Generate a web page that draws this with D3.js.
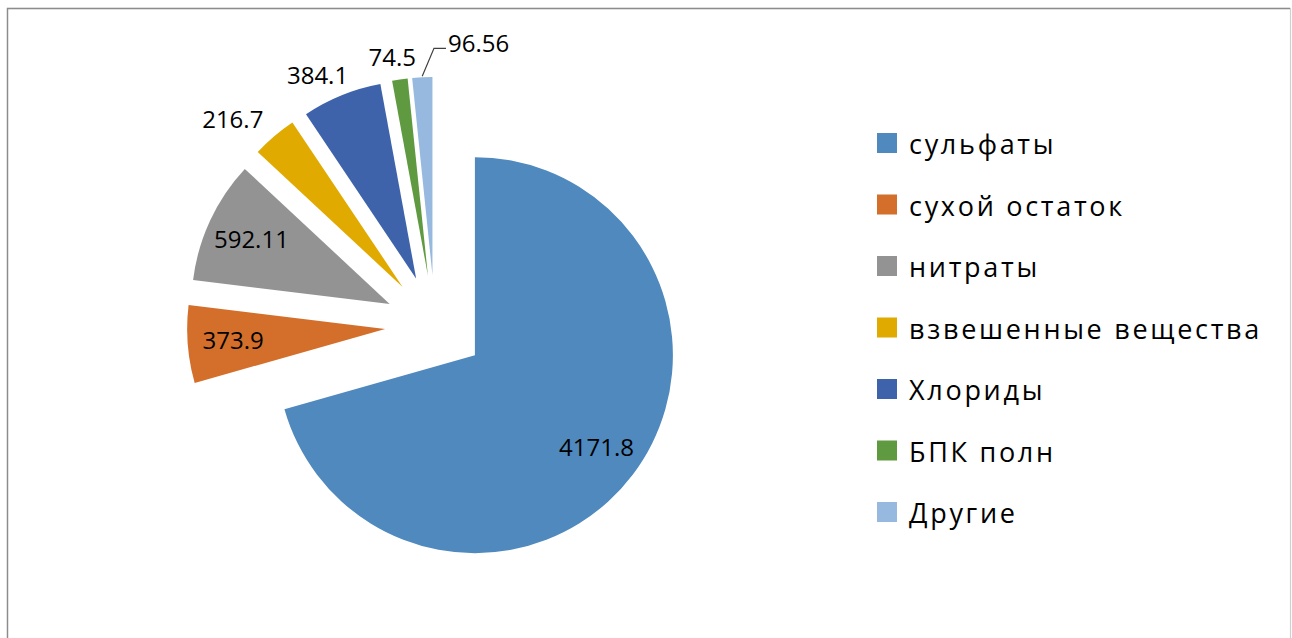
<!DOCTYPE html>
<html>
<head>
<meta charset="utf-8">
<script src="https://cdn.jsdelivr.net/npm/d3@7"></script>
<style>
  html, body { margin: 0; padding: 0; background: #fff; }
  svg { display: block; }
</style>
</head>
<body>
<script>
// chart data
var categories = ["сульфаты", "сухой остаток", "нитраты", "взвешенные вещества", "Хлориды", "БПК полн", "Другие"];
var values = [4171.8, 373.9, 592.11, 216.7, 384.1, 74.5, 96.56];
var colors = ["#4f89bd", "#d46f2b", "#939393", "#e0aa00", "#3e63ab", "#5f9a41", "#97b9e0"];

var W = 1292, H = 638;
var cx = 435, cy = 325;      // pie centre
var r = 198;                 // radius
var explode = 50;            // every slice pulled out
var labelFont = "'Open Sans', 'DejaVu Sans', sans-serif";
var labelSize = 24;

var svg = d3.select("body")
    .append("svg")
    .attr("width", W)
    .attr("height", H);

// frame
svg.append("rect")
    .attr("x", 7.5).attr("y", 8.5)
    .attr("width", W - 9).attr("height", H)
    .attr("fill", "#fff")
    .attr("stroke", "#d0d0d0")
    .attr("stroke-width", 1.2);
svg.append("path")
    .attr("d", "M7.5," + H + "V8.5H" + (W - 2))
    .attr("fill", "none")
    .attr("stroke", "#8c8c8c")
    .attr("stroke-width", 1.4);

var pie = d3.pie().sort(null).value(function(d) { return d; });
var arcs = pie(values);
var arc = d3.arc().innerRadius(0).outerRadius(r);

function dirOf(a) { return [Math.sin(a), -Math.cos(a)]; }

arcs.forEach(function(d) {
    var mid = (d.startAngle + d.endAngle) / 2;
    var v = dirOf(mid);
    d.mid = mid;
    d.dir = v;
    d.ox = cx + v[0] * explode;
    d.oy = cy + v[1] * explode;
});

svg.append("g").selectAll(".slice")
    .data(arcs)
    .enter()
    .append("path")
    .attr("class", "slice")
    .attr("transform", function(d) { return "translate(" + d.ox + "," + d.oy + ")"; })
    .attr("d", arc)
    .attr("fill", function(d, i) { return colors[i]; });

// data labels: inside when the text fits in the wedge, otherwise outside
var labelG = svg.append("g");
var placed = [];

arcs.forEach(function(d, i) {
    var t = labelG.append("text")
        .attr("text-anchor", "middle")
        .style("font-family", labelFont)
        .style("font-size", labelSize + "px")
        .style("fill", "#000")
        .text(String(values[i]));
    var w = t.node().getComputedTextLength();
    var h = labelSize * 0.75;

    // try inside
    var ri = r * 0.77;
    var px = d.dir[0] * ri, py = d.dir[1] * ri;
    var fits = true;
    [[-w / 2, -h / 2], [w / 2, -h / 2], [-w / 2, h / 2], [w / 2, h / 2]].forEach(function(c) {
        var x = px + c[0], y = py + c[1];
        var a = Math.atan2(x, -y);
        if (a < 0) a += 2 * Math.PI;
        var dist = Math.sqrt(x * x + y * y);
        if (a < d.startAngle || a > d.endAngle || dist > r - 4) fits = false;
    });

    var lx, ly, box;
    if (fits) {
        lx = d.ox + px;
        ly = d.oy + py;
    } else {
        var g = 18;
        var dx = d.dir[0], dy = d.dir[1];
        lx = d.ox + dx * (r + g) + Math.sign(dx) * (w / 2) * Math.min(1, 1.5 * Math.abs(dx));
        ly = d.oy + dy * (r + g) + dy * 4;
        box = { x0: lx - w / 2, x1: lx + w / 2, y0: ly - h / 2, y1: ly + h / 2 };
        var prev = placed[placed.length - 1];
        if (prev && box.x0 < prev.x1 + 4 && box.y1 > prev.y0 && box.y0 < prev.y1) {
            // collision: move to the right and draw a leader line
            var left = prev.x1 + 32;
            lx = left + w / 2;
            ly = ly - 12;
            box = { x0: left, x1: left + w, y0: ly - h / 2, y1: ly + h / 2 };
            var sx = d.ox + dx * (r + 1), sy = d.oy + dy * (r + 1);
            labelG.append("path")
                .attr("d", "M" + sx + "," + sy + "L" + (left - 14) + "," + (ly + 5) + "H" + (left - 2))
                .attr("fill", "none")
                .attr("stroke", "#404040")
                .attr("stroke-width", 1.2);
        }
        placed.push(box);
    }
    t.attr("x", lx).attr("y", ly + labelSize * 0.36);
});

// legend
var legend = svg.append("g")
    .attr("transform", "translate(877,143)");

var rows = legend.selectAll(".row")
    .data(categories)
    .enter()
    .append("g")
    .attr("class", "row")
    .attr("transform", function(d, i) { return "translate(0," + (i * 61.5) + ")"; });

rows.append("rect")
    .attr("x", 0).attr("y", -10)
    .attr("width", 20).attr("height", 20)
    .attr("fill", function(d, i) { return colors[i]; });

rows.append("text")
    .attr("x", 32)
    .attr("y", 11)
    .style("font-family", "'Open Sans', 'DejaVu Sans', sans-serif")
    .style("font-size", "27px")
    .style("letter-spacing", "2.7px")
    .style("fill", "#000")
    .text(function(d) { return d; });
</script>
</body>
</html>
